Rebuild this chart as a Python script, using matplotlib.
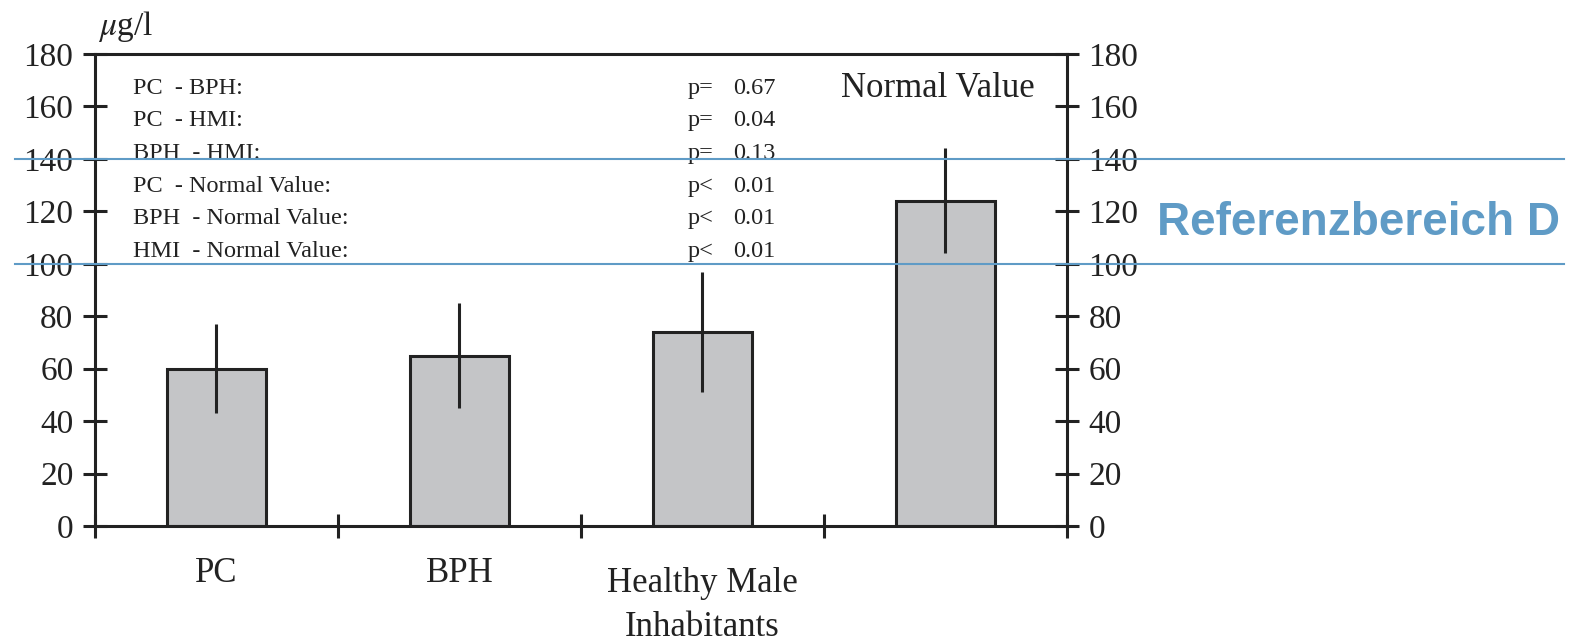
import matplotlib

matplotlib.use("Agg")
import matplotlib.pyplot as plt
import matplotlib.transforms as mtransforms
import numpy as np

# group means and standard deviations in ug/l
groups = ["PC", "BPH", "Healthy Male\nInhabitants", "Normal Value"]
means = [60, 65, 74, 124]
errors = [17, 20, 23, 20]

# pairwise comparisons
pairs = ["PC  - BPH:", "PC  - HMI:", "BPH  - HMI:", "PC  - Normal Value:",
         "BPH  - Normal Value:", "HMI  - Normal Value:"]
p_signs = ["p=", "p=", "p=", "p<", "p<", "p<"]
p_values = ["0.67", "0.04", "0.13", "0.01", "0.01", "0.01"]

ref_low, ref_high = 100, 140
ref_label = "Referenzbereich D"
yticks = [0, 20, 40, 60, 80, 100, 120, 140, 160, 180]

plt.rcParams["font.family"] = ["Liberation Serif", "DejaVu Serif"]
plt.rcParams["mathtext.fontset"] = "stix"

BAR_COLOR = "#c4c5c7"
INK = "#222222"
BLUE = "#5f9bc6"
LW = 2.2

fig = plt.figure(figsize=(15.84, 6.42), dpi=100)
ax = fig.add_axes([0.05997, 0.1807, 0.6136, 0.7352])

x = np.arange(len(groups)) + 0.5
ax.bar(x, means, width=0.405, color=BAR_COLOR, edgecolor=INK, linewidth=LW, zorder=2)
ax.errorbar(x, means, yerr=errors, fmt="none", ecolor=INK, elinewidth=LW, capsize=0, zorder=3)

ax.set_xlim(0, len(groups))
ax.set_ylim(0, 180)
ax.set_yticks(yticks)
ax.set_xticks(np.arange(len(groups) + 1))
ax.set_xticklabels([])
for side in ax.spines.values():
    side.set_linewidth(LW)
    side.set_color(INK)
ax.tick_params(axis="both", direction="inout", length=17, width=LW, color=INK)
ax.tick_params(axis="y", left=True, right=True, labelleft=True, labelright=True,
               labelsize=24, pad=7, labelcolor=INK)
ax.tick_params(axis="x", top=False)

# category labels (last group is labelled inside the plot);
# baseline refers to the last line of a label
xdata_yaxes = mtransforms.blended_transform_factory(ax.transData, ax.transAxes)
label_y = [-0.1186, -0.1186, -0.233]
for xi, name, ly in zip(x[:-1], groups[:-1], label_y):
    ax.text(xi, ly, name, transform=xdata_yaxes, ha="center", va="baseline",
            fontsize=25, color=INK, linespacing=1.45)
ax.text(3.47, 163.6, groups[-1], ha="center", va="baseline", fontsize=25, color=INK)

# unit label
ax.text(0.003, 1.040, r"$\mu$g/l", transform=ax.transAxes, ha="left", va="baseline",
        fontsize=24, color=INK)

# p-value table
for i, (pair, sign, pv) in enumerate(zip(pairs, p_signs, p_values)):
    yy = 164.8 - 12.44 * i
    ax.text(0.156, yy, pair, ha="left", va="baseline", fontsize=17.5, color=INK)
    ax.text(2.44, yy, sign, ha="left", va="baseline", fontsize=17.5, color=INK)
    ax.text(2.625, yy, pv, ha="left", va="baseline", fontsize=17.5, color=INK)

# reference range lines
for level in (ref_low, ref_high):
    ax.axhline(level, xmin=-0.082, xmax=1.511, color=BLUE, linewidth=1.5,
               clip_on=False, zorder=5)
xaxes_ydata = mtransforms.blended_transform_factory(ax.transAxes, ax.transData)
ax.text(1.0926, 111, ref_label, transform=xaxes_ydata, ha="left", va="baseline",
        fontsize=33, fontweight="bold", color=BLUE, family=["Liberation Sans", "DejaVu Sans"])

fig.savefig("out.png", dpi=100)
